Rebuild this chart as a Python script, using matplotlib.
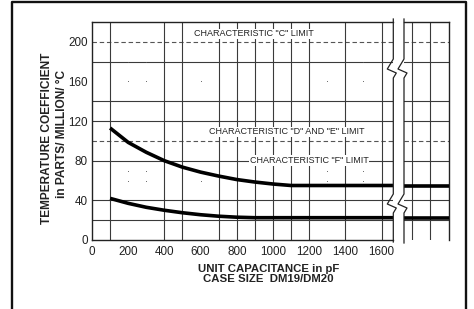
import matplotlib
matplotlib.use("Agg")
import matplotlib.pyplot as plt
from matplotlib.lines import Line2D

plt.rcParams['font.family'] = ['Liberation Sans', 'DejaVu Sans']

# ---- data ----
x_ticks = [0, 200, 400, 600, 800, 1000, 1200, 1400, 1600]
y_ticks = [0, 40, 80, 120, 160, 200]
x_grid = [100, 400, 500, 700, 800, 900, 1000, 1100, 1200, 1400, 1600]
y_grid = [20, 40, 80, 120, 140, 180]
y_limits_dashed = [100, 200]

upper_x = [100, 200, 300, 400, 500, 600, 700, 800, 900, 1000, 1100, 1663]
upper_y = [113, 98.5, 88.5, 80, 73.5, 68.5, 64.5, 61, 58.5, 56.5, 55, 55]
lower_x = [100, 200, 300, 400, 500, 600, 700, 800, 900, 1663]
lower_y = [42, 37, 33, 30, 27.5, 25.5, 24, 23, 22.5, 22.5]

dot_x = [200, 300, 200, 300, 600, 1500, 1300, 1500, 200, 300, 200, 300, 600, 1300, 1300, 1500, 1500]
dot_y = [180, 180, 160, 160, 160, 180, 160, 160, 70, 70, 60, 60, 60, 70, 60, 70, 60]

right_grid = [0.17, 0.58]

labels = [("CHARACTERISTIC \"C\" LIMIT", 895, 208),
          ("CHARACTERISTIC \"D\" AND \"E\" LIMIT", 1077, 109),
          ("CHARACTERISTIC \"F\" LIMIT", 1199, 80)]

W, H = 474, 309
fig = plt.figure(figsize=(W / 100, H / 100), dpi=100)


def fx(px):
    return px / W


def fy(py):
    return 1 - py / H


grid_c = '#3a3a3a'
ax = fig.add_axes([fx(92), fy(240), fx(393) - fx(92), fy(22) - fy(240)])
ax2 = fig.add_axes([fx(404), fy(240), fx(448.5) - fx(404), fy(22) - fy(240)])

for a in (ax, ax2):
    a.set_ylim(0, 220)
    for y in y_grid:
        a.axhline(y, color=grid_c, lw=0.8, zorder=1)
    for y in y_limits_dashed:
        a.axhline(y, color='#555555', lw=0.8, ls=(0, (4, 2.5)), zorder=1)

ax.set_xlim(0, 1663)
for x in x_grid:
    ax.axvline(x, color=grid_c, lw=0.8, zorder=1)
ax.plot(upper_x, upper_y, color='black', lw=2.6, solid_capstyle='butt',
        solid_joinstyle='round', zorder=4)
ax.plot(lower_x, lower_y, color='black', lw=2.6, solid_capstyle='butt',
        solid_joinstyle='round', zorder=4)
ax.plot(dot_x, dot_y, ls='none', marker='s', ms=0.55, mew=0, color='#555555', zorder=2)

for t, x, y in labels:
    ax.text(x, y, t, ha='center', va='center', fontsize=6.5, color='#222222',
            bbox=dict(fc='white', ec='none', pad=0.6), zorder=3)

ax.set_xticks(x_ticks)
ax.set_yticks(y_ticks)
ax.tick_params(axis='x', length=0, pad=4, labelsize=8.4, colors='#222222')
ax.tick_params(axis='y', length=0, pad=3, labelsize=8.4, colors='#222222')
for s in ('left', 'bottom', 'top'):
    ax.spines[s].set_linewidth(1.0)
    ax.spines[s].set_color('#222222')
ax.spines['right'].set_visible(False)

ax2.set_xlim(0, 1)
for x in right_grid:
    ax2.axvline(x, color=grid_c, lw=0.8, zorder=1)
ax2.plot([0, 1], [upper_y[-1], upper_y[-1]], color='black', lw=2.6, solid_capstyle='butt', zorder=4)
ax2.plot([0, 1], [lower_y[-1], lower_y[-1]], color='black', lw=2.6, solid_capstyle='butt', zorder=4)
ax2.set_xticks([])
ax2.set_yticks([])
for s in ('left', 'bottom'):
    ax2.spines[s].set_visible(False)
for s in ('top', 'right'):
    ax2.spines[s].set_linewidth(1.0)
    ax2.spines[s].set_color('#222222')


# break edges with zigzags
def break_line(x0, top, bottom, zz):
    xs, ys = [x0], [top]
    for yc in zz:
        xs += [x0, x0 - 6, x0 + 3, x0]
        ys += [yc - 10, yc, yc + 4, yc + 9]
    xs.append(x0)
    ys.append(bottom)
    fig.add_artist(Line2D([fx(v) for v in xs], [fy(v) for v in ys],
                          transform=fig.transFigure, color='#222222', lw=0.9))


break_line(393.3, 19, 242, [69, 204])
break_line(404, 19, 243, [69, 204])

# outer frame
fig.add_artist(Line2D([fx(12), fx(12), fx(466), fx(466)],
                      [fy(312), fy(2), fy(2), fy(312)],
                      transform=fig.transFigure, color='#111111', lw=1.7))

# axis titles
fig.text(fx(46.7), fy(138.5), "TEMPERATURE COEFFICIENT", rotation=90,
         ha='center', va='center', fontsize=8.6, fontweight='bold', color='#222222')
fig.text(fx(61.7), fy(134), "in PARTS/ MILLION/ \u00b0C", rotation=90,
         ha='center', va='center', fontsize=8.6, fontweight='bold', color='#222222')
fig.text(fx(268.5), fy(269.5), "UNIT CAPACITANCE in pF", ha='center', va='center',
         fontsize=8.2, fontweight='bold', color='#222222')
fig.text(fx(268), fy(279.5), "CASE SIZE  DM19/DM20", ha='center', va='center',
         fontsize=8.2, fontweight='bold', color='#222222')

fig.savefig("out.png", dpi=100)
